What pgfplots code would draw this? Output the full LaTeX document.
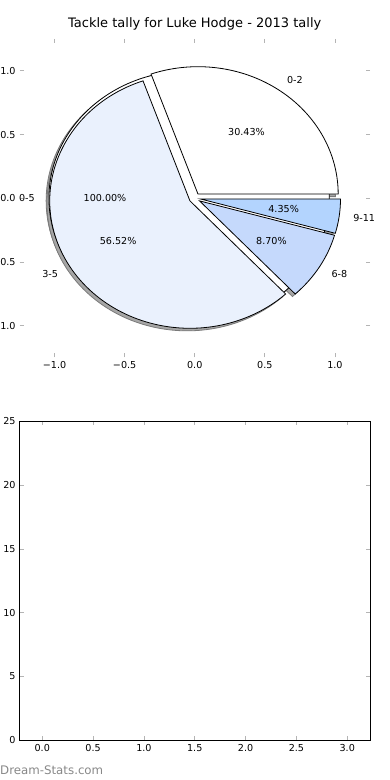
\documentclass[border=0pt]{standalone}
\usepackage{pgfplots}
\pgfplotsset{compat=1.18}
\usepackage{pgfplotstable}
\usepackage{fontspec}
\setmainfont{DejaVu Sans}

\definecolor{wA}{HTML}{FFFFFF}
\definecolor{wB}{HTML}{EAF1FD}
\definecolor{wC}{HTML}{C5D9FC}
\definecolor{wD}{HTML}{B3D4FE}
\definecolor{shade}{HTML}{A6A6A6}
\definecolor{shadeedge}{HTML}{7A7A7A}
\definecolor{tickgray}{HTML}{B4B4B4}
\definecolor{wm}{HTML}{888888}

\newcommand\smallfont{\fontsize{9.6}{11.5}\selectfont}
\newcommand\titlefont{\fontsize{13}{15.5}\selectfont}

% tackle tally: counts per bin
\pgfplotstableread{
label count
0-2 7
3-5 13
6-8 2
9-11 1
}\tallytable
% overall pie (one slice)
\pgfplotstableread{
label count
0-5 23
}\totaltable

\pgfplotstablegetelem{0}{count}\of\tallytable\let\vA\pgfplotsretval
\pgfplotstablegetelem{1}{count}\of\tallytable\let\vB\pgfplotsretval
\pgfplotstablegetelem{2}{count}\of\tallytable\let\vC\pgfplotsretval
\pgfplotstablegetelem{3}{count}\of\tallytable\let\vD\pgfplotsretval
\pgfplotstablegetelem{0}{count}\of\totaltable\let\vT\pgfplotsretval

\pgfmathsetmacro\tot{\vA+\vB+\vC+\vD}
\def\aA{0}
\pgfmathsetmacro\aB{360*\vA/\tot}
\pgfmathsetmacro\aC{\aB+360*\vB/\tot}
\pgfmathsetmacro\aD{\aC+360*\vC/\tot}
\pgfmathsetmacro\aE{\aD+360*\vD/\tot}
\pgfmathsetmacro\mA{(\aA+\aB)/2}
\pgfmathsetmacro\mB{(\aB+\aC)/2}
\pgfmathsetmacro\mC{(\aC+\aD)/2}
\pgfmathsetmacro\mD{(\aD+\aE)/2}
\def\ex{0.04}
\def\sh{0.02}
% explode centres
\pgfmathsetmacro\cxA{\ex*cos(\mA)}\pgfmathsetmacro\cyA{\ex*sin(\mA)}
\pgfmathsetmacro\cxB{\ex*cos(\mB)}\pgfmathsetmacro\cyB{\ex*sin(\mB)}
\pgfmathsetmacro\cxC{\ex*cos(\mC)}\pgfmathsetmacro\cyC{\ex*sin(\mC)}
\pgfmathsetmacro\cxD{\ex*cos(\mD)}\pgfmathsetmacro\cyD{\ex*sin(\mD)}
\pgfmathsetmacro\cxT{\ex*cos(180)}\def\cyT{0}
% shadow centres
\pgfmathsetmacro\sxA{\cxA-\sh}\pgfmathsetmacro\syA{\cyA-\sh}
\pgfmathsetmacro\sxB{\cxB-\sh}\pgfmathsetmacro\syB{\cyB-\sh}
\pgfmathsetmacro\sxC{\cxC-\sh}\pgfmathsetmacro\syC{\cyC-\sh}
\pgfmathsetmacro\sxD{\cxD-\sh}\pgfmathsetmacro\syD{\cyD-\sh}
\pgfmathsetmacro\sxT{\cxT-\sh}\pgfmathsetmacro\syT{\cyT-\sh}
% label positions (1.1 r) and percentage positions (0.6 r)
\pgfmathsetmacro\lxA{(1.1+\ex)*cos(\mA)}\pgfmathsetmacro\lyA{(1.1+\ex)*sin(\mA)}
\pgfmathsetmacro\lxB{(1.1+\ex)*cos(\mB)}\pgfmathsetmacro\lyB{(1.1+\ex)*sin(\mB)}
\pgfmathsetmacro\lxC{(1.1+\ex)*cos(\mC)}\pgfmathsetmacro\lyC{(1.1+\ex)*sin(\mC)}
\pgfmathsetmacro\lxD{(1.1+\ex)*cos(\mD)}\pgfmathsetmacro\lyD{(1.1+\ex)*sin(\mD)}
\pgfmathsetmacro\lxT{(1.1+\ex)*cos(180)}
\pgfmathsetmacro\pxA{(0.6+\ex)*cos(\mA)}\pgfmathsetmacro\pyA{(0.6+\ex)*sin(\mA)}
\pgfmathsetmacro\pxB{(0.6+\ex)*cos(\mB)}\pgfmathsetmacro\pyB{(0.6+\ex)*sin(\mB)}
\pgfmathsetmacro\pxC{(0.6+\ex)*cos(\mC)}\pgfmathsetmacro\pyC{(0.6+\ex)*sin(\mC)}
\pgfmathsetmacro\pxD{(0.6+\ex)*cos(\mD)}\pgfmathsetmacro\pyD{(0.6+\ex)*sin(\mD)}
\pgfmathsetmacro\pxT{(0.6+\ex)*cos(180)}
\pgfmathsetmacro\pcA{100*\vA/\tot}
\pgfmathsetmacro\pcB{100*\vB/\tot}
\pgfmathsetmacro\pcC{100*\vC/\tot}
\pgfmathsetmacro\pcD{100*\vD/\tot}
\pgfmathsetmacro\pcT{100*\vT/\vT}

% axis unit lengths (pt per data unit)
\def\rx{140.2}
\def\ry{127.4}

\newcommand\piewedge[6]{%
  \filldraw[fill=#5, draw=#6, line width=0.8pt]
    (axis cs:#1,#2) -- ++(#3:\rx pt and \ry pt)
    arc[start angle=#3, end angle=#4, x radius=\rx pt, y radius=\ry pt] -- cycle;}
\newcommand\pct[1]{\pgfmathprintnumber[fixed,fixed zerofill,precision=2,assume math mode=true]{#1}\%}

\begin{document}
\begin{tikzpicture}[x=1pt,y=1pt]
% ---------- top: pie ----------
\begin{axis}[
  at={(19.5pt,422.5pt)}, anchor=south west,
  scale only axis, width=350.5pt, height=318.5pt,
  xmin=-1.25, xmax=1.25, ymin=-1.25, ymax=1.25,
  clip=false,
  axis line style={draw=none},
  xtick={-1,-0.5,0,0.5,1}, ytick={-1,-0.5,0,0.5,1},
  xticklabels={−1.0,−0.5,0.0,0.5,1.0},
  % the reference shows these labels with their minus signs cut off by the left edge
  yticklabels={1.0,0.5,0.0,0.5,1.0},
  tick align=inside, major tick length=4pt,
  tick style={draw=tickgray, line width=0.8pt},
  xticklabel style={font=\smallfont, inner sep=0pt, anchor=north, yshift=-4pt},
  yticklabel style={font=\smallfont, inner sep=0pt, anchor=east, xshift=-3.7pt},
  title={Tackle tally for Luke Hodge - 2013 tally},
  title style={font=\titlefont, at={(0.5,1)}, anchor=base, yshift=5.5pt, inner sep=0pt},
]
% shadows
\filldraw[fill=shade, draw=shadeedge, line width=0.8pt] (axis cs:\sxT,\syT) ellipse[x radius=\rx pt, y radius=\ry pt];
\piewedge{\sxA}{\syA}{\aA}{\aB}{shade}{shadeedge}
\piewedge{\sxB}{\syB}{\aB}{\aC}{shade}{shadeedge}
\piewedge{\sxC}{\syC}{\aC}{\aD}{shade}{shadeedge}
\piewedge{\sxD}{\syD}{\aD}{\aE}{shade}{shadeedge}
% overall slice
\filldraw[fill=white, draw=black, line width=0.8pt] (axis cs:\cxT,\cyT) ellipse[x radius=\rx pt, y radius=\ry pt];
% wedges
\piewedge{\cxA}{\cyA}{\aA}{\aB}{wA}{black}
\piewedge{\cxB}{\cyB}{\aB}{\aC}{wB}{black}
\piewedge{\cxC}{\cyC}{\aC}{\aD}{wC}{black}
\piewedge{\cxD}{\cyD}{\aD}{\aE}{wD}{black}
% labels
\node[font=\smallfont, inner sep=0pt, anchor=east] at (axis cs:\lxT,0) {0-5};
\node[font=\smallfont, inner sep=0pt] at (axis cs:\pxT,0) {\pct{\pcT}};
\node[font=\smallfont, inner sep=0pt, anchor=west] at (axis cs:\lxA,\lyA) {0-2};
\node[font=\smallfont, inner sep=0pt, anchor=east] at (axis cs:\lxB,\lyB) {3-5};
\node[font=\smallfont, inner sep=0pt, anchor=west] at (axis cs:\lxC,\lyC) {6-8};
\node[font=\smallfont, inner sep=0pt, anchor=west] at (axis cs:\lxD,\lyD) {9-11};
\node[font=\smallfont, inner sep=0pt] at (axis cs:\pxA,\pyA) {\pct{\pcA}};
\node[font=\smallfont, inner sep=0pt] at (axis cs:\pxB,\pyB) {\pct{\pcB}};
\node[font=\smallfont, inner sep=0pt] at (axis cs:\pxC,\pyC) {\pct{\pcC}};
\node[font=\smallfont, inner sep=0pt] at (axis cs:\pxD,\pyD) {\pct{\pcD}};
\end{axis}
% ---------- bottom: empty axes ----------
\begin{axis}[
  at={(19.5pt,39.7pt)}, anchor=south west,
  scale only axis, width=350.5pt, height=318.8pt,
  xmin=-0.224, xmax=3.224, ymin=0, ymax=25,
  axis line style={draw=black, line width=0.8pt},
  xtick={0,0.5,1,1.5,2,2.5,3}, ytick={0,5,10,15,20,25},
  xticklabel={\pgfmathprintnumber[fixed,fixed zerofill,precision=1,assume math mode=true]{\tick}},
  yticklabel={\pgfmathprintnumber[fixed,precision=0,assume math mode=true]{\tick}},
  tick align=inside, major tick length=4pt,
  tick style={draw=tickgray, line width=0.8pt},
  xticklabel style={font=\smallfont, inner sep=0pt, anchor=north, yshift=-4pt},
  yticklabel style={font=\smallfont, inner sep=0pt, anchor=east, xshift=-3.7pt},
]
\end{axis}
\node[anchor=base west, inner sep=0pt, text=wm, font=\fontsize{11.8}{14}\selectfont] at (0,5.7) {Dream-Stats.com};
\pgfresetboundingbox
\path[use as bounding box] (0,0) rectangle (390,780);
\end{tikzpicture}
\end{document}
